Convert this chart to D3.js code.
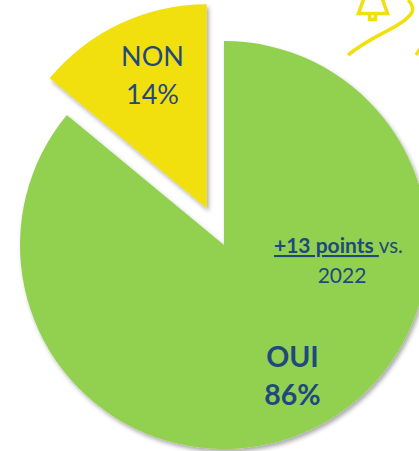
<!DOCTYPE html>
<html><head><meta charset="utf-8">
<script src="https://cdn.jsdelivr.net/npm/d3@7"></script>
<style>html,body{margin:0;padding:0;background:#fff;overflow:hidden}svg{display:block;font-family:Lato,"Open Sans",sans-serif}</style>
</head><body><svg id="c" width="419" height="451"></svg>
<script>
const categories = ["OUI","NON"];
const values = [86,14];
const labels = ["OUI","NON"];
const percentLabels = ["86%","14%"];
const colors = ["#92D050","#F1E00C"];
const noteBold = "+13 points ";
const noteTail = "vs.";
const noteYear = "2022";

const W=419,H=451,cx=224,cy=245,R=204,explode=40.5;
const svg=d3.select("#c");
const defs=svg.append("defs");
const f=defs.append("filter").attr("id","sh").attr("x","-10%").attr("y","-10%").attr("width","125%").attr("height","125%");
f.append("feDropShadow").attr("dx",2).attr("dy",3).attr("stdDeviation",2.2).attr("flood-color","#000").attr("flood-opacity",0.33);

const pie=d3.pie().sort(null).value(d=>d)(values);
const arc=d3.arc().innerRadius(0).outerRadius(R);
const g=svg.append("g").attr("transform",`translate(${cx},${cy})`);
g.selectAll("path").data(pie).join("path")
 .attr("d",arc).attr("fill",(d,i)=>colors[i]).attr("filter","url(#sh)")
 .attr("transform",(d,i)=>{
   if(i===0) return null;
   const a=(d.startAngle+d.endAngle)/2;
   return `translate(${explode*Math.sin(a)},${-explode*Math.cos(a)})`;
 });

const ink="#1F497D";
function t(x,y,s,size,w){return svg.append("text").attr("x",x).attr("y",y).attr("text-anchor","middle").attr("fill",ink).attr("font-size",size).attr("font-weight",w||400).text(s);}
t(152.5,66,labels[1],27);
t(152.5,104,percentLabels[1],27);
t(292.5,367,labels[0],28.5,700);
t(292.5,405,percentLabels[0],28.5,700);
const n=svg.append("text").attr("x",274).attr("y",253).attr("fill",ink).attr("font-size",21);
n.append("tspan").attr("font-weight",700).attr("text-decoration","underline").style("white-space","pre").text(noteBold);
n.append("tspan").attr("font-size",20.5).text(noteTail);
t(342,283,noteYear,21);

// decorative outlines
const deco=svg.append("g").attr("fill","none").attr("stroke","#F1E00C").attr("stroke-width",3.5);
deco.append("path").attr("d","M364,-2 L358.5,13.5 L387.5,13.5 L382,-2");
deco.append("path").attr("d","M369.5,15 V19.5 H375.5 V15");
deco.append("path").attr("d","M348,55 C362,44 372,39 383,33 C397,26 409,19 412,12 C414,7 411,3 408,0");
deco.append("path").attr("d","M416,55 L420,49");
</script></body></html>
